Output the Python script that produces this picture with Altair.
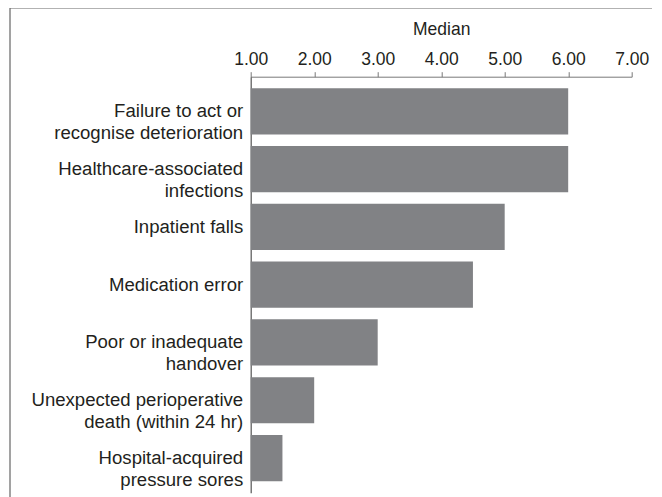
import altair as alt
import pandas as pd

categories = [
    "Failure to act or|recognise deterioration",
    "Healthcare-associated|infections",
    "Inpatient falls",
    "Medication error",
    "Poor or inadequate|handover",
    "Unexpected perioperative|death (within 24 hr)",
    "Hospital-acquired|pressure sores",
]
medians = [6.0, 6.0, 5.0, 4.5, 3.0, 2.0, 1.5]
x_ticks = [1, 2, 3, 4, 5, 6, 7]

df = pd.DataFrame({"category": categories, "median": medians, "base": [1.0] * len(medians)})

FONT = "Liberation Sans"
TEXT = "#231f20"

bars = alt.Chart(df).mark_bar(color="#818285").encode(
    y=alt.Y(
        "category:N",
        sort=categories,
        scale=alt.Scale(paddingInner=0.2, paddingOuter=0.2),
        axis=alt.Axis(
            title=None,
            ticks=False,
            labelExpr="split(datum.label, '|')",
            labelFont=FONT,
            labelFontSize=18.6,
            labelColor=TEXT,
            labelLineHeight=22,
            labelPadding=8,
            labelLimit=300,
            domainColor="#555555",
            domainWidth=1.2,
        ),
    ),
    x=alt.X(
        "median:Q",
        scale=alt.Scale(domain=[1, 7], zero=False, nice=False),
        axis=alt.Axis(
            orient="top",
            title="Median",
            values=x_ticks,
            format=".2f",
            grid=False,
            tickSize=5,
            tickColor="#777777",
            domainColor="#777777",
            labelFont=FONT,
            labelFontSize=17.5,
            labelColor=TEXT,
            labelPadding=3,
            labelFlush=False,
            labelOverlap=False,
            titleFont=FONT,
            titleFontSize=17.5,
            titleFontWeight="normal",
            titleColor=TEXT,
            titlePadding=12,
        ),
    ),
    x2=alt.X2("base:Q"),
)

frame = alt.Chart(pd.DataFrame({"k": [0]})).mark_rect(
    fill=None, stroke="#666666", strokeWidth=1.2
).encode(
    x=alt.value(-240.7), x2=alt.value(407.5), y=alt.value(-68.7), y2=alt.value(440)
)

chart = alt.layer(bars, frame).properties(
    width=381,
    height=416,
    autosize=alt.AutoSizeParams(type="none"),
    padding={"left": 242.7, "top": 68.7, "right": 20, "bottom": 5},
    background="white",
).configure_view(stroke=None)

chart.save("out.html", embed_options={"renderer": "svg", "actions": False})
